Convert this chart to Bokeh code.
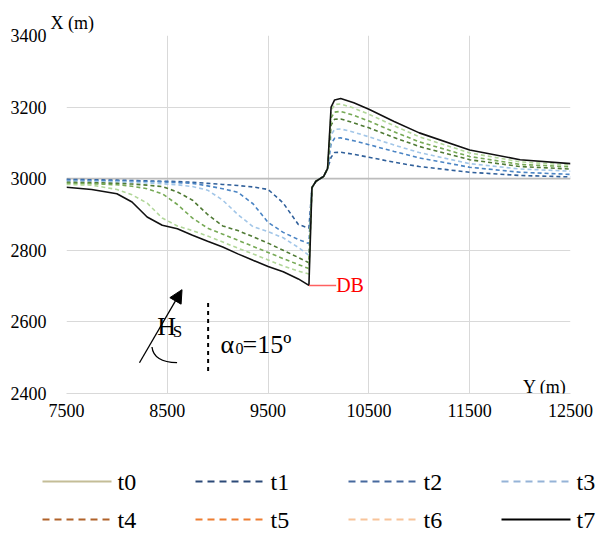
from bokeh.plotting import figure
from bokeh.models import Range1d, FixedTicker, Label, Arrow, NormalHead, Title
from bokeh.layouts import column
from bokeh.embed import file_html
from bokeh.resources import INLINE
from bokeh.core.properties import value

# ---------------- data ----------------
Y_POS = [7500, 7750, 8000, 8150, 8300, 8450, 8600, 8750, 8900, 9050, 9200, 9350, 9500, 9650, 9800, 9905,
         9935, 9975, 10050, 10090, 10125, 10160, 10220, 10350, 10500, 10750, 11000, 11500, 12000, 12500]

T0_Y = [7500, 12500]
T0 = [3000, 3000]

T1 = [2998, 2997, 2996, 2995, 2994, 2993, 2992, 2990, 2987, 2984, 2981, 2977, 2970, 2932, 2872, 2862,
      2975, 2993, 3006, 3028, 3060, 3073, 3074, 3068, 3060, 3046, 3034, 3018, 3009, 3005]
T2 = [2996, 2995, 2994, 2993, 2992, 2991, 2989, 2987, 2980, 2972, 2962, 2930, 2878, 2850, 2830, 2819,
      2975, 2993, 3006, 3028, 3098, 3113, 3114, 3106, 3095, 3076, 3058, 3032, 3018, 3012]
T3 = [2993, 2992, 2991, 2990, 2988, 2986, 2983, 2978, 2968, 2940, 2900, 2866, 2852, 2835, 2808, 2786,
      2975, 2993, 3006, 3028, 3122, 3138, 3139, 3130, 3117, 3094, 3073, 3042, 3027, 3021]
T4 = [2990, 2989, 2987, 2985, 2982, 2978, 2963, 2940, 2900, 2868, 2855, 2838, 2820, 2800, 2780, 2765,
      2975, 2993, 3006, 3028, 3150, 3166, 3167, 3156, 3142, 3115, 3090, 3053, 3034, 3027]
T5 = [2987, 2986, 2983, 2979, 2972, 2958, 2928, 2890, 2862, 2845, 2828, 2811, 2794, 2777, 2760, 2749,
      2975, 2993, 3006, 3028, 3170, 3186, 3188, 3177, 3161, 3131, 3103, 3062, 3040, 3033]
T6 = [2984, 2982, 2970, 2955, 2932, 2890, 2868, 2855, 2840, 2823, 2806, 2790, 2773, 2756, 2742, 2734,
      2975, 2993, 3006, 3028, 3190, 3207, 3209, 3197, 3180, 3148, 3117, 3072, 3047, 3038]
T7 = [2976, 2970, 2958, 2935, 2893, 2870, 2860, 2842, 2825, 2809, 2790, 2772, 2755, 2740, 2720, 2702,
      2975, 2993, 3006, 3028, 3200, 3220, 3224, 3212, 3194, 3160, 3128, 3080, 3053, 3042]

LABELS = ["t0", "t1", "t2", "t3", "t4", "t5", "t6", "t7"]
PLOT_COLORS = ["#bcbcbc", "#2f5f9a", "#4a84c4", "#a2c6e8", "#4f7a34", "#76a955", "#b2d79a", "#111111"]
LEGEND_COLORS = ["#c4bd97", "#2c4a78", "#46699e", "#95b3d7", "#b0622a", "#ed7d31", "#f8c49a", "#000000"]

XTICKS = [7500, 8500, 9500, 10500, 11500, 12500]
YTICKS = [2400, 2600, 2800, 3000, 3200, 3400]

# annotation geometry (data coordinates)
DB_Y = [9905, 10175]
DB_X = [2702, 2702]
ARROW = dict(x_start=8224, y_start=2486, x_end=8646, y_end=2690)
ARC = dict(x0=[8348], y0=[2530], cx=[8364], cy=[2488], x1=[8597], y1=[2486])
DASH_V = dict(x0=[8905], y0=[2653], x1=[8905], y1=[2454])

SERIF = "Liberation Serif"

# ---------------- main figure ----------------
p = figure(width=596, height=428, output_backend="svg", toolbar_location=None,
           x_range=Range1d(7500, 12500), y_range=Range1d(2400, 3400),
           min_border_left=66, min_border_right=26, min_border_top=35, min_border_bottom=35)
p.outline_line_color = None
p.background_fill_color = "white"
p.border_fill_color = "white"
p.frame_align = False

for ax, ticks in ((p.xaxis, XTICKS), (p.yaxis, YTICKS)):
    ax.ticker = FixedTicker(ticks=ticks)
    ax.major_tick_line_color = None
    ax.minor_tick_line_color = None
    ax.major_label_text_font = SERIF
    ax.major_label_text_font_size = "18px"
    ax.major_label_text_color = "#000000"
p.xaxis.axis_line_color = "#d9d9d9"
p.yaxis.axis_line_color = None
p.xaxis.major_label_standoff = 4
p.yaxis.major_label_standoff = 14

p.xgrid.ticker = FixedTicker(ticks=XTICKS)
p.ygrid.ticker = FixedTicker(ticks=YTICKS)
p.xgrid.grid_line_color = "#d9d9d9"
p.ygrid.grid_line_color = "#d9d9d9"

# y-axis title at top-left
p.add_layout(Title(text="X (m)", align="left", offset=-16, standoff=6, text_font=SERIF,
                   text_font_size="18px", text_font_style="normal", text_color="#000000"), "above")

# series
p.line(T0_Y, T0, line_color=PLOT_COLORS[0], line_width=1.8)
for ser, col in zip([T1, T2, T3, T4, T5, T6], PLOT_COLORS[1:7]):
    p.line(Y_POS, ser, line_color=col, line_width=1.6, line_dash="4 3")
p.line(Y_POS, T7, line_color=PLOT_COLORS[7], line_width=1.6)

# DB marker
p.line(DB_Y, DB_X, line_color="#ff6060", line_width=1.5)
p.add_layout(Label(x=DB_Y[1], y=DB_X[1], text="DB", text_color="#ff0000", text_font=SERIF,
                   text_font_size="20px", text_baseline="alphabetic"))

# wave annotation
p.add_layout(Arrow(end=NormalHead(size=13, fill_color="black", line_color="black"),
                   line_color="black", line_width=1.3, **ARROW))
p.quadratic(line_color="black", line_width=1.3, **ARC)
p.segment(line_color="black", line_width=2, line_dash="4 4", **DASH_V)

def lab(x, y, text, size):
    p.add_layout(Label(x=x, y=y, text=text, text_font=SERIF, text_font_size=size,
                       text_color="#000000", text_baseline="alphabetic"))

lab(8400, 2586, "H", "26px")
lab(8555, 2572, "S", "17px")
lab(9027, 2538, "α", "26px")
lab(9177, 2527, "0", "16px")
lab(9246, 2538, "=15º", "26px")

# x-axis title inside the frame
p.add_layout(Label(x=12500, y=2400, text="Y (m)", text_font=SERIF, text_font_size="18px",
                   text_color="#000000", text_align="right", text_baseline="alphabetic",
                   x_offset=-4, y_offset=7))

# ---------------- legend figure (page-pixel coordinates) ----------------
lf = figure(width=596, height=105, output_backend="svg", toolbar_location=None,
            x_range=Range1d(0, 596), y_range=Range1d(533, 428),
            x_axis_location=None, y_axis_location=None,
            min_border_left=0, min_border_right=0, min_border_top=0, min_border_bottom=0)
lf.outline_line_color = None
lf.xgrid.visible = False
lf.ygrid.visible = False
lf.frame_align = False

COL_X0, COL_STEP, ROW_Y0, ROW_STEP = 42, 153, 481, 38
GLYPH_W, LABEL_GAP = 69, 6
for i, (name, col) in enumerate(zip(LABELS, LEGEND_COLORS)):
    x0 = COL_X0 + (i % 4) * COL_STEP
    yc = ROW_Y0 + (i // 4) * ROW_STEP
    dash = "solid" if i in (0, 7) else "7 5"
    lf.segment(x0=[x0], y0=[yc], x1=[x0 + GLYPH_W], y1=[yc], line_color=col, line_width=2,
               line_dash=dash)
    lf.text(x=[x0 + GLYPH_W + LABEL_GAP], y=[yc], text=[name], text_font_size="24px",
            text_color="#000000", text_baseline="middle", text_align="left",
            text_font=value(SERIF))

layout = column(p, lf, spacing=0)
open("out.html", "w").write(file_html(layout, INLINE))
